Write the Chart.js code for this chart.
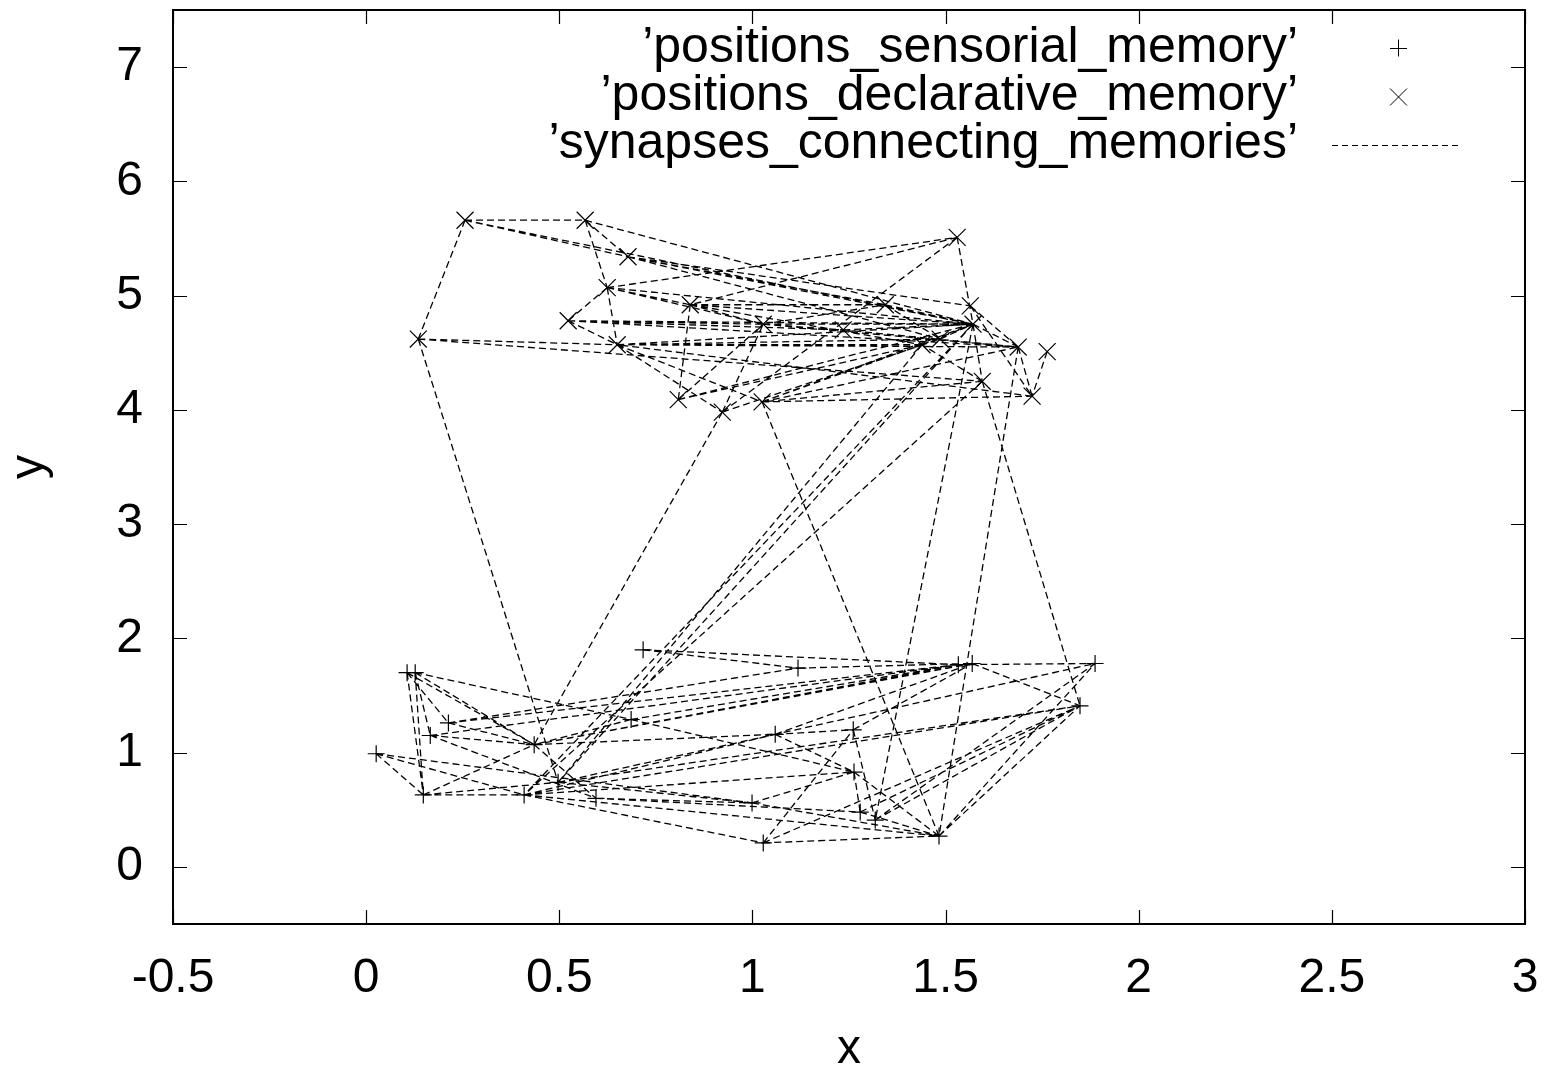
<!DOCTYPE html>
<html><head><meta charset="utf-8">
<script src="https://cdn.jsdelivr.net/npm/chart.js@4.4.1/dist/chart.umd.min.js"></script>
<style>html,body{margin:0;padding:0;background:#fff;}canvas{display:block;}</style>
</head><body>
<canvas id="c" width="1554" height="1068"></canvas>
<script>
// ---- data ----
const sensorialX = [0.106,0.127,0.213,0.166,0.026,0.148,0.435,0.409,0.497,0.595,0.717,0.686,1.059,0.999,1.028,1.118,1.569,1.533,1.887,1.848,1.261,1.263,1.279,1.318,1.483];
const sensorialY = [1.70,1.70,1.26,1.15,0.99,0.63,1.07,0.63,0.74,0.60,1.90,1.29,1.16,0.56,0.21,1.74,1.78,1.77,1.78,1.41,1.20,0.83,0.48,0.41,0.27];
const declarativeX = [0.256,0.567,0.678,0.624,0.523,0.839,0.135,0.650,0.808,0.922,1.025,1.028,1.530,1.564,1.571,1.235,1.344,1.439,1.486,1.688,1.763,1.595,1.724];
const declarativeY = [5.66,5.66,5.34,5.07,4.78,4.92,4.62,4.57,4.09,3.98,4.07,4.75,5.51,4.91,4.75,4.70,4.92,4.57,4.62,4.55,4.51,4.25,4.12];
// synapses: pairs of point indices
const synDeclDecl = [[0,1],[0,6],[0,14],[0,2],[1,14],[1,3],[1,2],[2,14],[2,13],[2,18],[3,12],[3,5],[3,7],[3,11],[3,4],[4,11],[4,14],[4,15],[5,14],[5,17],[5,11],[5,16],[5,8],[6,7],[6,21],[7,14],[7,17],[7,18],[7,9],[7,10],[7,19],[8,11],[8,14],[9,11],[9,18],[9,12],[10,19],[10,22],[10,14],[10,17],[11,14],[11,16],[11,19],[12,14],[12,5],[13,19],[14,19],[14,21],[15,14],[15,19],[16,14],[17,14],[18,14],[19,22],[20,22],[21,10],[22,7],[21,17],[13,22],[11,15],[16,18],[8,17],[4,7],[2,16],[3,14],[4,19]];
const synSensSens = [[0,5],[1,5],[1,6],[0,2],[1,3],[1,11],[5,6],[5,7],[4,5],[4,13],[3,6],[2,15],[2,6],[6,12],[6,17],[10,15],[10,17],[11,17],[11,6],[14,20],[14,24],[14,19],[21,22],[20,23],[22,19],[23,19],[23,18],[24,18],[24,19],[17,18],[16,19],[15,16],[12,16],[6,16],[7,19],[13,24],[21,24],[22,24],[7,14],[7,24],[9,22],[8,18],[8,19],[5,8],[7,12],[12,20],[13,21],[9,13],[3,9],[2,17],[8,13],[7,21],[12,21],[20,16],[0,6],[4,7],[11,21],[6,9],[3,17]];
const synDeclSens = [[6,8],[10,24],[14,23],[19,24],[21,19],[21,7],[14,7],[14,8],[9,6],[17,8]];
const xTickValues = [-0.5,0,0.5,1,1.5,2,2.5,3];
const yTickValues = [0,1,2,3,4,5,6,7];
const legendLabels = ["\u2019positions_sensorial_memory\u2019","\u2019positions_declarative_memory\u2019","\u2019synapses_connecting_memories\u2019"];

// ---- build ----
const sensPts = sensorialX.map((x,i)=>({x:x,y:sensorialY[i]}));
const declPts = declarativeX.map((x,i)=>({x:x,y:declarativeY[i]}));
const synData = [];
function addSeg(a,b){ synData.push({x:a.x,y:a.y},{x:b.x,y:b.y},{x:b.x,y:null}); }
synDeclDecl.forEach(([a,b])=>addSeg(declPts[a],declPts[b]));
synSensSens.forEach(([a,b])=>addSeg(sensPts[a],sensPts[b]));
synDeclSens.forEach(([a,b])=>addSeg(declPts[a],sensPts[b]));

const FONT = "'Liberation Sans', Arial, Helvetica, sans-serif";

const framePlugin = {
  id:'frame',
  afterDraw(chart){
    const {ctx, chartArea:a, scales:{x,y}} = chart;
    ctx.save();
    ctx.strokeStyle='#000';
    ctx.lineWidth=1.2;
    ctx.beginPath();
    xTickValues.forEach(v=>{const p=Math.round(x.getPixelForValue(v))+0.5; ctx.moveTo(p,a.bottom); ctx.lineTo(p,a.bottom-14); ctx.moveTo(p,a.top); ctx.lineTo(p,a.top+14);});
    yTickValues.forEach(v=>{const p=Math.round(y.getPixelForValue(v))+0.5; ctx.moveTo(a.left,p); ctx.lineTo(a.left+14,p); ctx.moveTo(a.right,p); ctx.lineTo(a.right-14,p);});
    ctx.stroke();
    ctx.lineWidth=2;
    ctx.strokeRect(a.left,a.top,a.right-a.left,a.bottom-a.top);
    // legend
    const base=[62,110,158];
    const sym=[48,97,145];
    ctx.fillStyle='#000';
    ctx.font='50px '+FONT;
    ctx.textAlign='right';
    ctx.textBaseline='alphabetic';
    legendLabels.forEach((t,i)=>ctx.fillText(t,1298,base[i]));
    ctx.lineWidth=1;
    ctx.beginPath();
    const cx=1398.5;
    ctx.moveTo(cx-8.5,sym[0]+0.5); ctx.lineTo(cx+8.5,sym[0]+0.5); ctx.moveTo(cx,sym[0]-8.5); ctx.lineTo(cx,sym[0]+8.5);
    ctx.moveTo(cx-8.5,sym[1]-8.5); ctx.lineTo(cx+8.5,sym[1]+8.5); ctx.moveTo(cx-8.5,sym[1]+8.5); ctx.lineTo(cx+8.5,sym[1]-8.5);
    ctx.stroke();
    ctx.setLineDash([6,4]);
    ctx.beginPath(); ctx.moveTo(1332,sym[2]+0.5); ctx.lineTo(1462,sym[2]+0.5); ctx.stroke();
    ctx.restore();
  }
};

function zeroPad(s){ s.paddingTop=0; s.paddingBottom=0; s.paddingLeft=0; s.paddingRight=0; }

new Chart(document.getElementById('c'),{
  type:'scatter',
  data:{datasets:[
    {type:'line',label:legendLabels[2],data:synData,borderColor:'#000',borderWidth:1.3,borderDash:[7,4],pointRadius:0,pointHoverRadius:0,fill:false,tension:0,spanGaps:false},
    {label:legendLabels[0],data:sensPts,pointStyle:'cross',pointRadius:8.5,pointHoverRadius:8.5,borderColor:'#000',backgroundColor:'#000',borderWidth:1.2,showLine:false},
    {label:legendLabels[1],data:declPts,pointStyle:'crossRot',pointRadius:12,pointHoverRadius:12,borderColor:'#000',backgroundColor:'#000',borderWidth:1.2,showLine:false}
  ]},
  options:{
    responsive:false,animation:false,devicePixelRatio:1,
    events:[],
    layout:{autoPadding:false,padding:{left:0,right:29,top:10,bottom:0}},
    plugins:{legend:{display:false},tooltip:{enabled:false}},
    scales:{
      x:{type:'linear',min:-0.5,max:3,
        afterBuildTicks(s){s.ticks=xTickValues.map(v=>({value:v}));},
        afterFit(s){s.height=144; zeroPad(s);},
        grid:{display:false,drawTicks:false,tickLength:0},border:{display:false},
        ticks:{padding:26,color:'#000',font:{family:FONT,size:48},maxRotation:0,autoSkip:false,callback:v=>String(v)},
        title:{display:true,text:'x',color:'#000',font:{family:FONT,size:48,lineHeight:0.75},padding:{top:0,bottom:0}}
      },
      y:{type:'linear',min:-0.5,max:7.5,
        afterBuildTicks(s){s.ticks=yTickValues.map(v=>({value:v}));},
        afterFit(s){s.width=173; zeroPad(s);},
        grid:{display:false,drawTicks:false,tickLength:0},border:{display:false},
        ticks:{padding:30,color:'#000',font:{family:FONT,size:48},autoSkip:false,callback:v=>String(v)},
        title:{display:true,text:'y',color:'#000',font:{family:FONT,size:48,lineHeight:0.75},padding:{top:12,bottom:0}}
      }
    }
  },
  plugins:[framePlugin]
});
</script>
</body></html>
